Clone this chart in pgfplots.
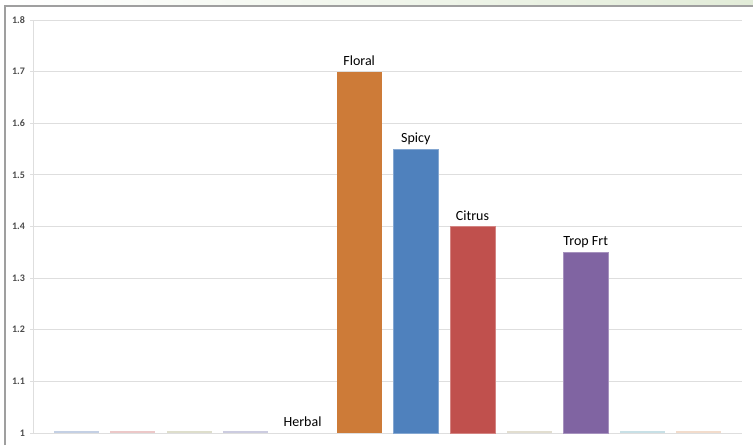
\documentclass[border=0pt]{standalone}
\usepackage{pgfplots}
\pgfplotsset{compat=1.18}
\usepackage{fontspec}
\setmainfont{Carlito}
\definecolor{cFloral}{RGB}{205,123,56}
\definecolor{cSpicy}{RGB}{79,129,189}
\definecolor{cCitrus}{RGB}{192,80,77}
\definecolor{cTrop}{RGB}{128,100,162}
\definecolor{t1}{RGB}{196,208,228}
\definecolor{t2}{RGB}{236,200,200}
\definecolor{t3}{RGB}{222,222,204}
\definecolor{t4}{RGB}{204,204,224}
\definecolor{t9}{RGB}{226,222,208}
\definecolor{t11}{RGB}{200,224,230}
\definecolor{t12}{RGB}{242,220,204}
\definecolor{gridc}{RGB}{222,222,222}
\definecolor{bg}{RGB}{226,236,216}
\begin{document}
\begin{tikzpicture}[x=1pt,y=1pt]
\path[use as bounding box] (0,0) rectangle (753,445);
\fill[white] (0,0) rectangle (753,445);
\shade[left color=white, right color=bg] (5,439) rectangle (753,445);
\draw[color=gray!75, line width=1.3pt] (5,0) -- (5,439) -- (753,439);
\begin{axis}[
  at={(33pt,12pt)}, anchor=south west,
  scale only axis, width=709pt, height=413pt,
  xmin=-0.76, xmax=11.76, ymin=1, ymax=1.8,
  xtick=\empty,
  ytick={1,1.1,1.2,1.3,1.4,1.5,1.6,1.7,1.8},
  yticklabels={1,1.1,1.2,1.3,1.4,1.5,1.6,1.7,1.8},
  yticklabel style={font=\fontsize{10}{11}\selectfont\bfseries, text=black!70, xshift=-1.5pt},
  axis x line=bottom, axis y line=left,
  axis line style={-},
  x axis line style={draw=gridc, line width=1pt},
  y axis line style={draw=gridc, line width=1pt},
  tick align=outside, major tick length=3pt,
  major tick style={draw=gridc, line width=1pt},
  ymajorgrids, grid style={draw=gridc, line width=1pt},
  clip=false,
  every node near coord/.append style={font=\fontsize{14}{16}\selectfont, text=black, anchor=base, yshift=6.5pt},
]
\addplot[ybar, bar shift=0pt, bar width=0.794, fill=t1, draw=none] coordinates {(0,1.004)};
\addplot[ybar, bar shift=0pt, bar width=0.794, fill=t2, draw=none] coordinates {(1,1.004)};
\addplot[ybar, bar shift=0pt, bar width=0.794, fill=t3, draw=none] coordinates {(2,1.004)};
\addplot[ybar, bar shift=0pt, bar width=0.794, fill=t4, draw=none] coordinates {(3,1.004)};
\addplot[ybar, bar shift=0pt, bar width=0.794, fill=none, draw=none, nodes near coords={Herbal}] coordinates {(4,1)};
\addplot[ybar, bar shift=0pt, bar width=0.794, fill=cFloral, draw=none, nodes near coords={Floral}] coordinates {(5,1.7)};
\addplot[ybar, bar shift=0pt, bar width=0.794, fill=cSpicy, draw=cSpicy!70!white, nodes near coords={Spicy}] coordinates {(6,1.55)};
\addplot[ybar, bar shift=0pt, bar width=0.794, fill=cCitrus, draw=cCitrus!70!white, nodes near coords={Citrus}] coordinates {(7,1.4)};
\addplot[ybar, bar shift=0pt, bar width=0.794, fill=t9, draw=none] coordinates {(8,1.004)};
\addplot[ybar, bar shift=0pt, bar width=0.794, fill=cTrop, draw=cTrop!70!white, nodes near coords={Trop Frt}] coordinates {(9,1.35)};
\addplot[ybar, bar shift=0pt, bar width=0.794, fill=t11, draw=none] coordinates {(10,1.004)};
\addplot[ybar, bar shift=0pt, bar width=0.794, fill=t12, draw=none] coordinates {(11,1.004)};
\end{axis}
\end{tikzpicture}
\end{document}
